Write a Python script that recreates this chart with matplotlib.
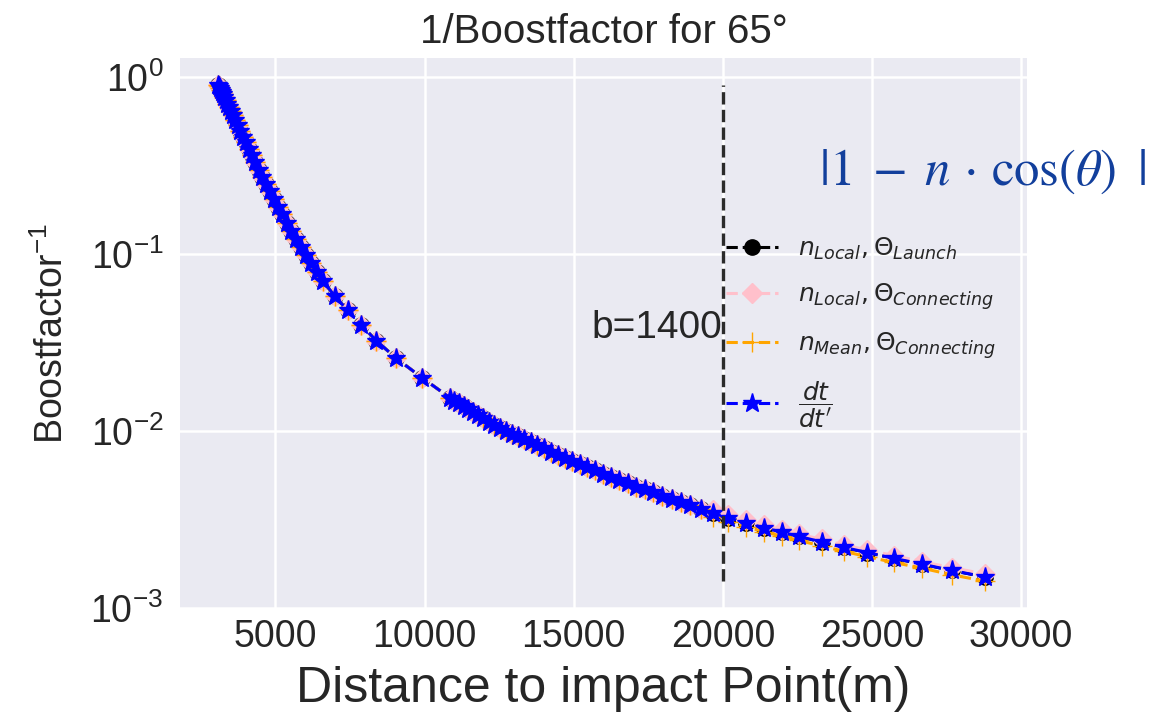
import numpy as np
import matplotlib
matplotlib.use('Agg')
import matplotlib.pyplot as plt
from matplotlib.font_manager import FontProperties

# distance to impact point (m)
dist_main = np.array([3087, 3105, 3130, 3160, 3195, 3235, 3280, 3330, 3385, 3445,
                      3510, 3580, 3655, 3735, 3820, 3910, 4005, 4105, 4210, 4320,
                      4435, 4555, 4680, 4810, 4945, 5085, 5230, 5380, 5535, 5695,
                      5860, 6030, 6205, 6385, 6587,
                      6980, 7427, 7875, 8378, 9050, 9922,
                      10855, 11000, 11150, 11305, 11465, 11630, 11800, 11975, 12155, 12340,
                      12530, 12725, 12925, 13130, 13340, 13555, 13775, 14000, 14230, 14465,
                      14705, 14950, 15200, 15455, 15715, 15980, 16250, 16525, 16805, 17090,
                      17380, 17675, 17975, 18280, 18590, 18905, 19280])
# 1/boostfactor, all four curves overlap here
inv_boost_main = np.array([0.902, 0.889, 0.871, 0.851, 0.828, 0.802, 0.774, 0.743, 0.711, 0.679,
                           0.644, 0.610, 0.573, 0.536, 0.499, 0.463, 0.429, 0.394, 0.362, 0.331,
                           0.301, 0.274, 0.250, 0.227, 0.206, 0.186, 0.168, 0.151, 0.136, 0.122,
                           0.110, 0.0989, 0.0887, 0.0796, 0.0708,
                           0.0582, 0.0481, 0.0398, 0.0325, 0.0258, 0.0200,
                           0.01542, 0.01489, 0.01439, 0.01387, 0.01334, 0.01282, 0.01233, 0.01183, 0.01132, 0.01084,
                           0.01038, 0.01002, 0.00968, 0.00933, 0.00899, 0.00865, 0.00832, 0.00800, 0.00766, 0.00735,
                           0.00705, 0.00678, 0.00652, 0.00625, 0.00600, 0.00575, 0.00552, 0.00528, 0.00506, 0.00485,
                           0.00468, 0.00450, 0.00432, 0.00415, 0.00398, 0.00382, 0.00363])

# far end, where the curves separate a little
dist_tail = np.array([19670, 20190, 20775, 21385, 21995, 22550, 23325, 24065, 24845, 25730,
                      26685, 27680, 28785])
tail_launch = np.array([0.00345, 0.00324, 0.00303, 0.00284, 0.00268, 0.00254, 0.00236, 0.00220,
                        0.00206, 0.00191, 0.00177, 0.00163, 0.00150])
tail_local_conn = np.array([0.00356, 0.00334, 0.00313, 0.00293, 0.00276, 0.00262, 0.00244, 0.00227,
                            0.00213, 0.00198, 0.00183, 0.00169, 0.00156])
tail_mean_conn = np.array([0.00329, 0.00308, 0.00288, 0.00270, 0.00254, 0.00241, 0.00224, 0.00209,
                           0.00195, 0.00181, 0.00168, 0.00154, 0.00142])
tail_dtdt = np.array([0.00345, 0.00324, 0.00303, 0.00284, 0.00268, 0.00254, 0.00236, 0.00220,
                      0.00206, 0.00191, 0.00177, 0.00163, 0.00150])

labels = [r'$n_{Local}, \Theta_{Launch}$', r'$n_{Local}, \Theta_{Connecting}$',
          r'$n_{Mean}, \Theta_{Connecting}$', r'$\dfrac{dt}{dt^\prime}$']
b_value = 1400
b_line_x = 20000
x_ticks = [5000, 10000, 15000, 20000, 25000, 30000]

dist = np.concatenate([dist_main, dist_tail])
series = [np.concatenate([inv_boost_main, t]) for t in
          (tail_launch, tail_local_conn, tail_mean_conn, tail_dtdt)]
styles = [('k', 'o', 11), ('pink', 'D', 10), ('orange', '+', 14), ('blue', '*', 14)]

plt.rcParams['font.family'] = ['Liberation Sans', 'DejaVu Sans']
plt.rcParams['mathtext.fontset'] = 'custom'
plt.rcParams['mathtext.rm'] = 'Liberation Sans'
plt.rcParams['mathtext.it'] = 'Liberation Sans:italic'
plt.rcParams['text.color'] = '.15'

fig = plt.figure(figsize=(11.66, 7.28), dpi=100)
ax = fig.add_axes([0.1544, 0.1648, 0.7264, 0.755])
ax.set_facecolor('#EAEAF2')
for s in ax.spines.values():
    s.set_visible(False)
ax.grid(True, color='white', lw=1.8)
ax.set_axisbelow(True)

for y, (c, m, ms), lab in zip(series, styles, labels):
    ax.plot(dist, y, color=c, marker=m, markersize=ms, linestyle='--', lw=2.2, label=lab)

ax.vlines(b_line_x, min(y.min() for y in series), max(y.max() for y in series),
          colors='#2b2b2b', linestyles='dashed', lw=2.4)
ax.text(15600, 0.0334, 'b=%d' % b_value, fontsize=28, color='.15')

ax.set_yscale('log')
ax.set_xlim(1800, 30200)
ax.set_ylim(1e-3, 1.28)
ax.set_xticks(x_ticks)
ax.minorticks_off()
ax.tick_params(axis='both', length=0, labelsize=27, labelcolor='.15')
ax.tick_params(axis='x', pad=8)
ax.tick_params(axis='y', pad=12)

ax.set_title('1/Boostfactor for 65°', fontsize=29, pad=11, color='.15')
ax.set_xlabel('Distance to impact Point(m)', fontsize=36, labelpad=8, color='.15')
ax.set_ylabel(r'Boostfactor$^{-1}$', fontsize=27, labelpad=14, color='.15')

ax.legend(loc='center right', frameon=False, numpoints=1, handlelength=2.1,
          labelspacing=0.75, borderaxespad=0.85,
          prop=FontProperties(family='DejaVu Sans', size=18, math_fontfamily='dejavusans'))

fig.text(0.702, 0.764, r'$|1\;-\;n\,\cdot\,\cos(\theta)\;\;|$', fontsize=36.5, color='#123f9c',
         va='center', ha='left', math_fontfamily='stix')

fig.savefig('out.png', dpi=100)
